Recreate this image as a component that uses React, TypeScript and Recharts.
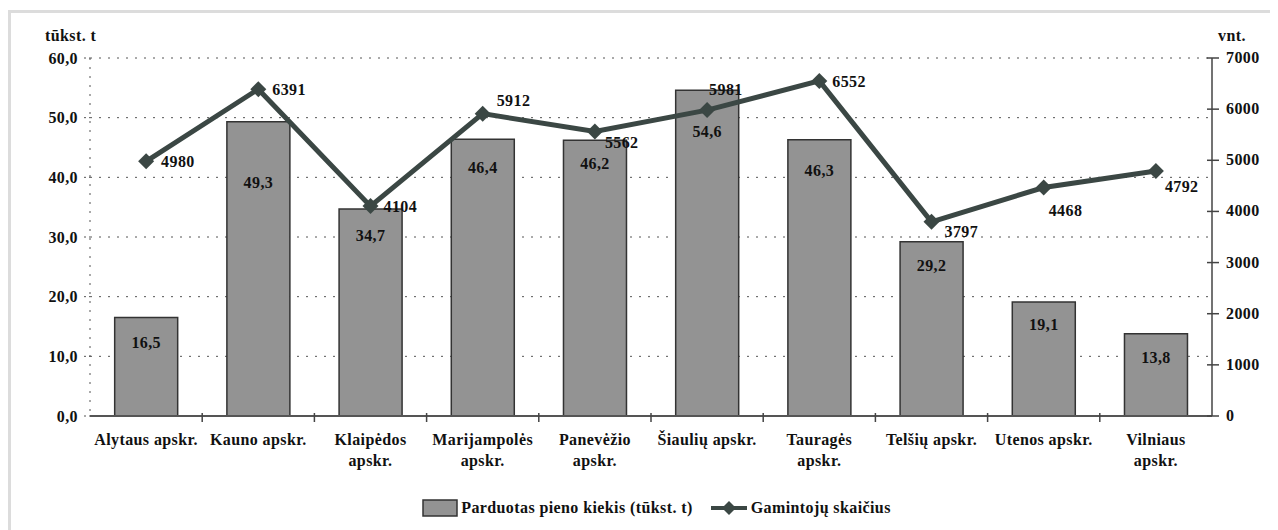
import { ComposedChart, Bar, Line, XAxis, YAxis, CartesianGrid, Legend, LabelList } from 'recharts';

const regions = [
  'Alytaus apskr.',
  'Kauno apskr.',
  'Klaipėdos\napskr.',
  'Marijampolės\napskr.',
  'Panevėžio\napskr.',
  'Šiaulių apskr.',
  'Tauragės\napskr.',
  'Telšių apskr.',
  'Utenos apskr.',
  'Vilniaus\napskr.',
];
const milkSold = [16.5, 49.3, 34.7, 46.4, 46.2, 54.6, 46.3, 29.2, 19.1, 13.8];
const producers = [4980, 6391, 4104, 5912, 5562, 5981, 6552, 3797, 4468, 4792];
const leftTicks = [0, 10, 20, 30, 40, 50, 60];
const rightTicks = [0, 1000, 2000, 3000, 4000, 5000, 6000, 7000];

const data = regions.map((name, i) => ({ name, milk: milkSold[i], producers: producers[i] }));

// label placement around the line points, [dx, dy]
const lineLabelOffsets = [
  [15, 1], [14, 1], [13, 1], [14, -13], [10, 11],
  [2, -20], [13, 1], [13, 10], [5, 24], [9, 16],
];
// bar value label distance below the bar top
const barLabelDy = [25, 61, 27, 29, 24, 42, 31, 24, 23, 24];

const FONT = 'Liberation Serif, serif';
const FS = 16;
const LS = 0.4;
const BAR_FILL = '#939393';
const LINE = '#3b4744';
const W = 1267;
const H = 517;
const MARGIN = { top: 45, right: 6, bottom: 54, left: 19 };
const BAND = (W - MARGIN.left - MARGIN.right - 120) / regions.length;

const fmt1 = (v: number) => v.toFixed(1).replace('.', ',');

const XTick = (props: any) => {
  const { x, y, payload, index } = props;
  const lines = String(payload.value).split('\n');
  return (
    <g>
      {index < regions.length - 1 && (
        <line x1={x + BAND / 2} x2={x + BAND / 2} y1={y - 3} y2={y + 6} stroke="#444" strokeWidth={1.5} />
      )}
      <text x={x} y={y + 29} textAnchor="middle" fontFamily={FONT} fontWeight="bold" fontSize={FS} letterSpacing={LS} fill="#111">
        {lines.map((l, i) => (
          <tspan key={i} x={x} dy={i === 0 ? 0 : 21}>{l}</tspan>
        ))}
      </text>
    </g>
  );
};

const RightTick = (props: any) => {
  const { x, y, payload } = props;
  return (
    <g>
      <line x1={x - 5} x2={x + 7} y1={y} y2={y} stroke="#444" strokeWidth={1.5} />
      <text x={x + 14} y={y} dy={5} textAnchor="start" fontFamily={FONT} fontWeight="bold" fontSize={FS} letterSpacing={LS} fill="#111">
        {payload.value}
      </text>
    </g>
  );
};

const Diamond = (props: any) => {
  const { cx, cy } = props;
  if (cx == null || cy == null) return null;
  const r = 8;
  return <polygon points={`${cx},${cy - r} ${cx + r},${cy} ${cx},${cy + r} ${cx - r},${cy}`} fill={LINE} />;
};

const LineLabel = (props: any) => {
  const { x, y, index, value } = props;
  const [dx, dy] = lineLabelOffsets[index] || [8, 0];
  return (
    <text x={x + dx} y={y + dy} dy={5} textAnchor="start" fontFamily={FONT} fontWeight="bold" fontSize={FS} letterSpacing={LS} fill="#111">
      {value}
    </text>
  );
};

const BarLabel = (props: any) => {
  const { x, y, width, index, value } = props;
  return (
    <text x={x + width / 2} y={y + barLabelDy[index]} dy={5} textAnchor="middle" fontFamily={FONT} fontWeight="bold" fontSize={FS} letterSpacing={LS} fill="#111">
      {fmt1(value)}
    </text>
  );
};

const LegendContent = () => (
  <div style={{ display: 'flex', justifyContent: 'center', alignItems: 'center', paddingLeft: 24, fontFamily: FONT, fontWeight: 'bold', fontSize: FS, letterSpacing: LS, color: '#111' }}>
    <svg width={36} height={18} style={{ marginRight: 3 }}>
      <rect x={1} y={1} width={34} height={16} fill={BAR_FILL} stroke="#333" strokeWidth={1.5} />
    </svg>
    <span>Parduotas pieno kiekis (tūkst. t)</span>
    <svg width={36} height={18} style={{ marginLeft: 18, marginRight: 4 }}>
      <line x1={0} x2={36} y1={9} y2={9} stroke={LINE} strokeWidth={4} />
      <polygon points="18,2 25,9 18,16 11,9" fill={LINE} />
    </svg>
    <span>Gamintojų skaičius</span>
  </div>
);

export default function App() {
  return (
    <div style={{ marginTop: 2, border: '3px solid #dcdcdc', width: 1280, height: 540, background: '#fff', position: 'relative' }}>
      <div style={{ position: 'absolute', left: 34, top: 14, fontFamily: FONT, fontWeight: 'bold', fontSize: FS, letterSpacing: LS, color: '#111' }}>tūkst. t</div>
      <div style={{ position: 'absolute', left: 1207, top: 14, fontFamily: FONT, fontWeight: 'bold', fontSize: FS, letterSpacing: LS, color: '#111' }}>vnt.</div>
      <ComposedChart width={W} height={H} data={data} margin={MARGIN} barCategoryGap="22%">
        <CartesianGrid yAxisId="left" vertical={false} stroke="#555" strokeDasharray="2 7" />
        <XAxis
          dataKey="name"
          xAxisId={0}
          interval={0}
          height={60}
          tickSize={0}
          tickMargin={0}
          tickLine={false}
          axisLine={{ stroke: '#555', strokeWidth: 2 }}
          tick={<XTick />}
        />
        <YAxis
          yAxisId="left"
          orientation="left"
          width={60}
          domain={[0, 60]}
          ticks={leftTicks}
          tickFormatter={fmt1}
          axisLine={{ stroke: '#555', strokeDasharray: '2 7' }}
          tickLine={{ stroke: '#555', strokeDasharray: '2 3' }}
          tickSize={6}
          tickMargin={6}
          tick={{ fontFamily: FONT, fontWeight: 'bold', fontSize: FS, letterSpacing: LS, fill: '#111' }}
        />
        <YAxis
          yAxisId="right"
          orientation="right"
          width={60}
          domain={[0, 7000]}
          ticks={rightTicks}
          tickSize={0}
          tickMargin={0}
          tickLine={false}
          axisLine={{ stroke: '#444', strokeWidth: 1.5 }}
          tick={<RightTick />}
        />
        <Bar yAxisId="left" dataKey="milk" fill={BAR_FILL} stroke="#333" strokeWidth={1.5} isAnimationActive={false}>
          <LabelList dataKey="milk" content={<BarLabel />} />
        </Bar>
        <Line
          yAxisId="right"
          dataKey="producers"
          stroke={LINE}
          strokeWidth={5}
          dot={<Diamond />}
          activeDot={false}
          isAnimationActive={false}
        >
          <LabelList dataKey="producers" content={<LineLabel />} />
        </Line>
        <Legend layout="horizontal" verticalAlign="middle" align="center" wrapperStyle={{ top: 486, left: 0, width: W }} content={<LegendContent />} />
      </ComposedChart>
    </div>
  );
}
